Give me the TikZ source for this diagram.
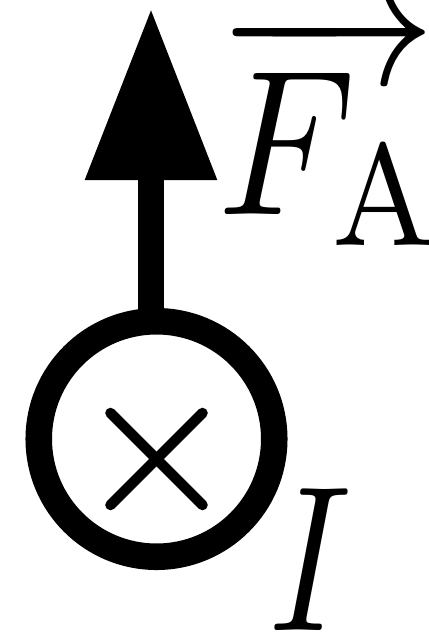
\documentclass[tikz,border=0pt]{standalone}
\usepackage{amsmath, amssymb}
\usepackage{tikz}
\usetikzlibrary{arrows.meta}
\newcommand{\forcevec}[1]{\setbox0\hbox{$\scriptspace=0pt #1$}\vbox{\offinterlineskip\hbox to \wd0{\rightarrowfill}\kern-0.58pt\box0}}

\begin{document}
\begin{tikzpicture}[
    wire/.style={circle, draw=black, line width=15.1pt, minimum size=4.71cm, inner sep=0pt},
    force/.style={-{Triangle[length=3.44cm, width=2.5cm]}, line width=14.7pt},
    cross/.style={line width=6pt, line cap=round},
    lbl/.style={inner sep=0pt, xscale=10, yscale=11.8, anchor=base west}
]
    \useasboundingbox (0,0) rectangle (8.56,-12.66);

    \node[wire] (wire) at (3.13,-8.78) {};
    \coordinate (tip) at (3.02,-0.16);

    \draw[force] ([shift={(-0.11,-0.2)}]wire.north) -- (tip);

    \draw[cross] ([shift={(-0.92,0.52)}]wire.center) -- ([shift={(0.92,-1.32)}]wire.center);
    \draw[cross] ([shift={(0.92,0.52)}]wire.center) -- ([shift={(-0.92,-1.32)}]wire.center);

    \node[lbl] (force label) at (4.3,-4.28) {\forcevec{F_{\mathrm{A}}}};
    \node[lbl, xscale=0.9] (current label) at (5.32,-12.6) {$I$};
\end{tikzpicture}
\end{document}
